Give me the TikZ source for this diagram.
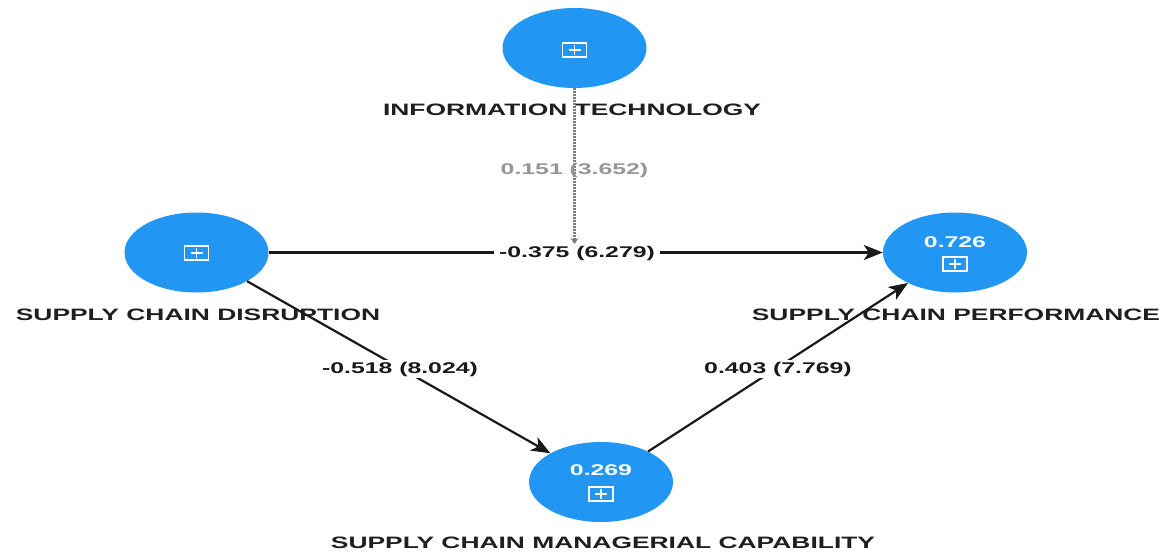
\documentclass[tikz,border=0pt]{standalone}
\usepackage{fontspec}
\setmainfont{Liberation Sans}
\usepackage{graphicx}
\usetikzlibrary{shapes.geometric,arrows.meta}
\definecolor{nodeblue}{RGB}{33,150,243}
\definecolor{labelgray}{RGB}{150,150,150}
\definecolor{dotgray}{RGB}{125,125,125}
\newcommand{\hs}[1]{\scalebox{1.6}[1]{#1}}
\begin{document}
\begin{tikzpicture}[x=1pt,y=-1pt,
  construct/.style={ellipse, fill=nodeblue, draw=none, minimum width=144pt, minimum height=80pt, inner sep=0pt},
  namelabel/.style={font=\fontsize{16.5}{18}\selectfont\bfseries, text=black!88, inner sep=0pt},
  pathlabel/.style={font=\fontsize{15.5}{17}\selectfont\bfseries, text=black!90, fill=white, inner xsep=5pt, inner ysep=2pt},
  modlabel/.style={font=\fontsize{15.5}{17}\selectfont\bfseries, text=labelgray, inner sep=0pt},
  innum/.style={font=\fontsize{15.5}{17}\selectfont\bfseries, text=white, inner sep=0pt},
  relarrow/.style={line width=2.2pt, draw=black!90, -{Stealth[length=19pt,width=15pt,inset=5pt]}},
  modline/.style={line width=2.4pt, draw=dotgray, dash pattern=on 1.5pt off 1.5pt, -{Stealth[length=6pt,width=8pt]}},
  expicon/.pic={\draw[white,line width=1.2pt] (-12,-7) rectangle (12,7);
                \draw[white,line width=1.1pt] (-6,0) -- (6,0) (0,-5) -- (0,5);}
]
\useasboundingbox[fill=white] (0,0) rectangle (1166,553);

% constructs
\node[construct] (it) at (574.5,48) {};
\node[construct] (scd) at (196.5,252.5) {};
\node[construct] (scp) at (955,252.5) {};
\node[construct] (scmc) at (601,482) {};

% icons and R^2 values
\pic at (574.5,50) {expicon};
\pic at (196.5,253) {expicon};
\node[innum] (r2scp) at (955,242) {\hs{0.726}};
\pic at (955,264) {expicon};
\node[innum] (r2scmc) at (601,470) {\hs{0.269}};
\pic at (601,494) {expicon};

% construct names
\node[namelabel] (itlab) at (572,110) {\hs{INFORMATION TECHNOLOGY}};
\node[namelabel] (scdlab) at (198,315) {\hs{SUPPLY CHAIN DISRUPTION}};
\node[namelabel] (scplab) at (956,315) {\hs{SUPPLY CHAIN PERFORMANCE}};
\node[namelabel] (scmclab) at (603,543) {\hs{SUPPLY CHAIN MANAGERIAL CAPABILITY}};

% moderating effect
\coordinate (itend) at (574.5,244);
\draw[modline] (it) -- (itend);
\node[modlabel] (itval) at (574.5,170) {\hs{0.151 (3.652)}};

% structural paths
\draw[relarrow] (scd) -- (scp);
\node[pathlabel] (l1) at (577,253) {\hs{-0.375 (6.279)}};
\draw[relarrow] (scd) -- (scmc);
\node[pathlabel] (l2) at (400,369) {\hs{-0.518 (8.024)}};
\draw[relarrow] (scmc) -- (scp);
\node[pathlabel] (l3) at (778,369) {\hs{0.403 (7.769)}};
\end{tikzpicture}
\end{document}
